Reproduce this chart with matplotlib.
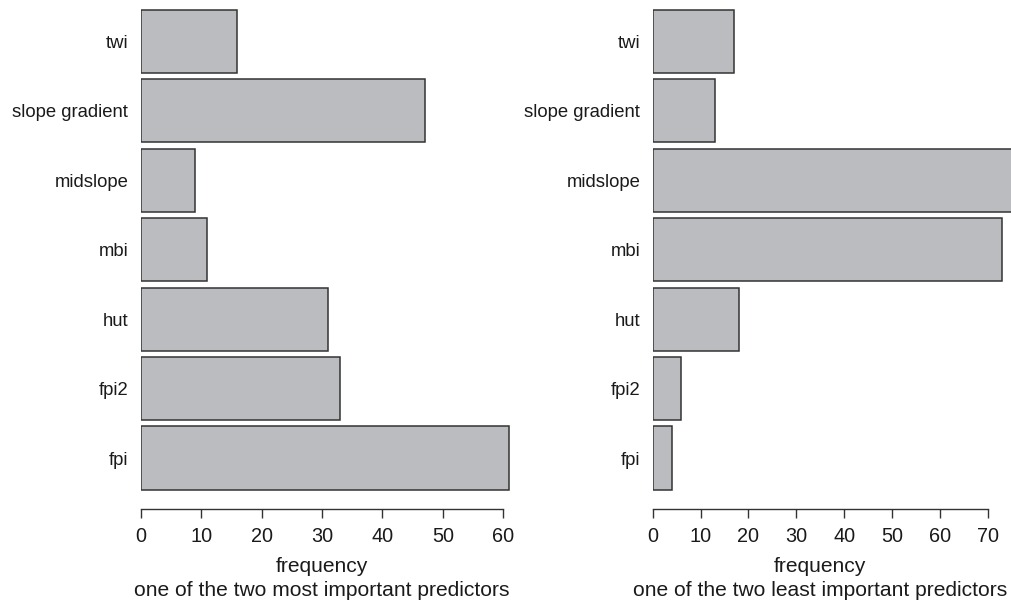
import matplotlib
matplotlib.use('Agg')
import matplotlib.pyplot as plt
import matplotlib.transforms as mtransforms

plt.rcParams['font.family'] = ['Liberation Sans', 'DejaVu Sans']
plt.rcParams['text.color'] = '#1a1a1a'

# predictor names, top to bottom as drawn
PREDICTORS = ['twi', 'slope gradient', 'midslope', 'mbi', 'hut', 'fpi2', 'fpi']
# frequency of each predictor among the two most / least important
MOST = [16, 47, 9, 11, 31, 33, 61]
LEAST = [17, 13, 76, 73, 18, 6, 4]
SUBTITLES = ['one of the two most important predictors',
             'one of the two least important predictors']
TICKS = [list(range(0, 61, 10)), list(range(0, 71, 10))]

W, H = 1012, 606
BAR_FC = '#bbbcc0'
EDGE = '#333333'
FS_NAMES = 13.3
FS_TICKS = 14.3
FS_LABEL = 15.1

fig = plt.figure(figsize=(W / 100, H / 100), dpi=100)

# (left px, right px, xlim max) per panel
panels = [(140.7, 515.4, 62.0), (652.7, 1012.0, 75.07)]
ylim = (-0.734, 6.595)

for (x0, x1, xmax), vals, sub, ticks in zip(panels, [MOST, LEAST], SUBTITLES, TICKS):
    ax = fig.add_axes([x0 / W, (H - 509) / H, (x1 - x0) / W, 509 / H])
    n = len(PREDICTORS)
    ypos = [n - 1 - i for i in range(n)]
    ax.barh(ypos, vals, height=0.909, color=BAR_FC, edgecolor=EDGE,
            linewidth=1.1)
    ax.set_xlim(0, xmax)
    ax.set_ylim(*ylim)

    for s in ['top', 'right', 'left']:
        ax.spines[s].set_visible(False)
    ax.spines['bottom'].set_bounds(ticks[0], ticks[-1])
    ax.spines['bottom'].set_color(EDGE)
    ax.spines['bottom'].set_linewidth(1.0)

    ax.set_xticks(ticks)
    ax.tick_params(axis='x', direction='out', length=6.5, width=1.0,
                   color=EDGE, pad=6.5, labelsize=FS_TICKS, labelcolor='#1a1a1a')
    ax.set_yticks(ypos)
    ax.set_yticklabels(PREDICTORS)
    ax.tick_params(axis='y', length=0, pad=9, labelsize=FS_NAMES,
                   labelcolor='#1a1a1a')

    # x label and panel caption below the axis
    trans = mtransforms.blended_transform_factory(ax.transData, fig.transFigure)
    mid = (ticks[0] + ticks[-1]) / 2
    ax.text(mid, 1 - 567 / H, 'frequency', transform=trans,
            ha='center', va='center', fontsize=FS_LABEL)
    ax.text(mid, 1 - 591 / H, sub, transform=trans,
            ha='center', va='center', fontsize=FS_LABEL)

fig.savefig('out.png', dpi=100)
